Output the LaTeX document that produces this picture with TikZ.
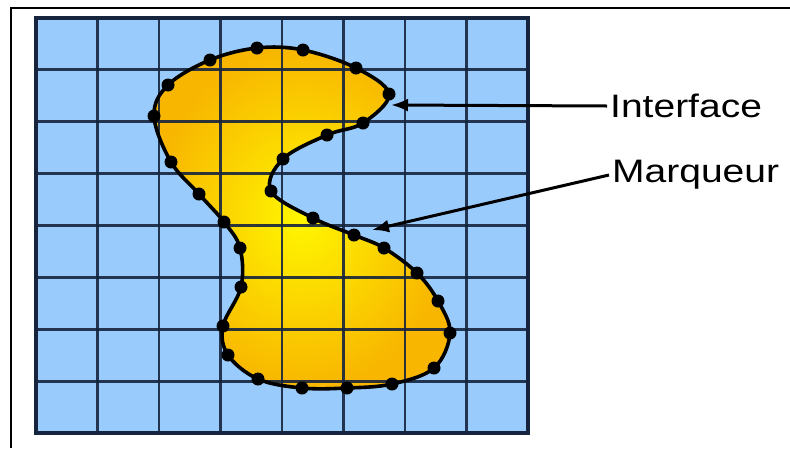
\documentclass[tikz,border=0pt]{standalone}
\usepackage{fontspec}
\setmainfont{Liberation Sans}
\usepackage{xcolor}
\usetikzlibrary{arrows.meta, positioning}

\definecolor{cellblue}{RGB}{153,204,252}
\definecolor{gridnavy}{RGB}{22,36,62}
\definecolor{blobin}{RGB}{255,246,0}
\definecolor{blobout}{RGB}{248,182,0}

\begin{document}
\begin{tikzpicture}[x=1pt, y=-1pt,
    gridline/.style={draw=gridnavy, line width=2.9pt, opacity=0.9},
    marker/.style={circle, fill=black, inner sep=0pt, minimum size=13pt},
    lbl/.style={anchor=west, inner sep=3pt, font=\fontsize{32.5}{38}\selectfont},
    pointer/.style={draw=black, line width=3pt, -{Latex[length=17pt,width=13pt]}}
]
    \useasboundingbox (0,0) rectangle (790,448);
    % frame
    \draw[line width=2.8pt] (790,8) -- (11,8) -- (11,448);

    % cells
    \fill[cellblue] (36,18) rectangle (528,433);

    % the interface
    \def\blob{(257,48) (303,50) (356,68) (389,94) (363,123) (327,135) (283,159)
        (271,191) (313,218) (354,235) (384,248) (417,273) (438,301) (450,333)
        (434,368) (392,384) (347,388) (302,388) (258,379) (228,355) (223,326)
        (241,287) (240,248) (224,222) (199,194) (171,162) (154,116) (168,85) (210,60)}
    \shade[inner color=blobin, outer color=blobout]
        plot[smooth cycle, tension=0.6] coordinates {\blob};

    % grid
    \foreach \i in {1,...,7} {
        \draw[gridline] ({36+61.5*\i},18) -- ({36+61.5*\i},433);
        \draw[gridline] (36,{18+51.875*\i}) -- (528,{18+51.875*\i});
    }
    \draw[draw=gridnavy, line width=4pt] (36,18) rectangle (528,433);

    \draw[line width=3.6pt] plot[smooth cycle, tension=0.6] coordinates {\blob};

    % markers
    \foreach \p [count=\k] in {(257,48), (303,50), (356,68), (389,94), (363,123),
        (327,135), (283,159), (271,191), (313,218), (354,235), (384,248), (417,273),
        (438,301), (450,333), (434,368), (392,384), (347,388), (302,388), (258,379),
        (228,355), (223,326), (241,287), (240,248), (224,222), (199,194), (171,162),
        (154,116), (168,85), (210,60)}
        \node[marker] (m\k) at \p {};

    % labels
    \node[lbl] (interface) at (607,106) {\scalebox{1.2}[1]{Interface}};
    \node[lbl] (marqueur) at (609,175) {\scalebox{1.2}[1]{Marqueur}};
    \coordinate (itip) at (391,105);
    \coordinate (mtip) at (372,230);

    \draw[pointer] (interface.west) -- (itip);
    \draw[pointer] (marqueur.west) -- (mtip);
\end{tikzpicture}
\end{document}
